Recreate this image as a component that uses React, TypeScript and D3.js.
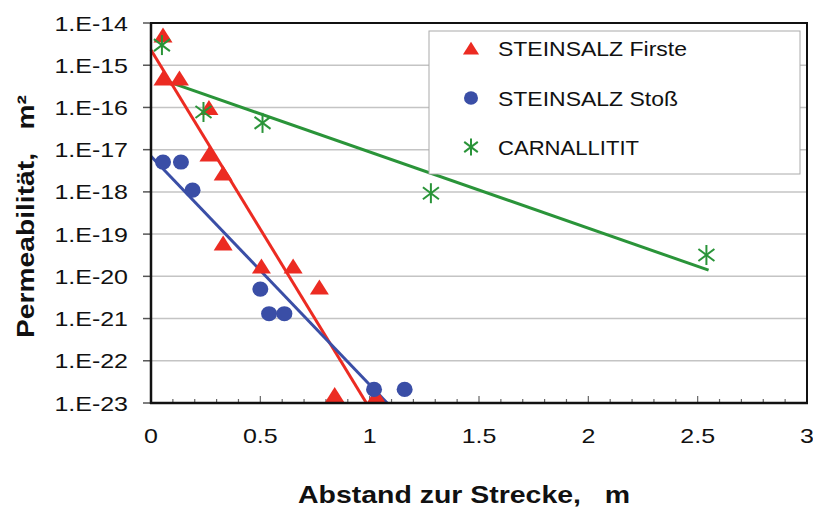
import React from "react";
import * as d3 from "d3";

const firsteX = [0.055, 0.055, 0.13, 0.265, 0.265, 0.33, 0.33, 0.505, 0.65, 0.77, 0.84, 1.03];
const firsteY = [5.2e-15, 5.0e-16, 5.0e-16, 1.0e-16, 7.9e-18, 2.8e-18, 6.2e-20, 1.75e-20, 1.75e-20, 5.6e-21, 1.6e-23, 1.5e-23];

const stossX = [0.055, 0.137, 0.19, 0.5, 0.54, 0.61, 1.02, 1.16];
const stossY = [5.1e-18, 5.1e-18, 1.1e-18, 5.0e-21, 1.3e-21, 1.3e-21, 2.1e-23, 2.1e-23];

const carnX = [0.05, 0.24, 0.51, 1.28, 2.54];
const carnY = [3.0e-15, 7.8e-17, 4.3e-17, 9.3e-19, 3.2e-20];

const firsteTrendX = [0, 0.985];
const firsteTrendY = [2.3e-15, 1e-23];
const stossTrendX = [0, 1.08];
const stossTrendY = [7.0e-18, 1e-23];
const carnTrendX = [0.055, 2.55];
const carnTrendY = [4.5e-16, 1.4e-20];

const yTickExp = [-14, -15, -16, -17, -18, -19, -20, -21, -22, -23];
const xTicks = [0, 0.5, 1, 1.5, 2, 2.5, 3];
const xMinor = d3.range(0, 31).map((i) => i / 10);

const legendLabels = ["STEINSALZ Firste", "STEINSALZ Stoß", "CARNALLITIT"];
const legendWidths = [189, 180, 141];
const xTitle = "Abstand zur Strecke,   m";
const yTitle = "Permeabilität,   m²";

const RED = "#ec2b22";
const BLUE = "#3a4ea6";
const GREEN = "#2a9439";
const FONT = "Liberation Sans, Arial, sans-serif";

const L = 151, R = 807, T = 23, B = 403;

export default function App() {
  const x = d3.scaleLinear().domain([0, 3]).range([L, R]);
  const y = d3.scaleLog().domain([1e-23, 1e-14]).range([B, T]);
  const line = (xs: number[], ys: number[]) =>
    d3.line<number>().x((_, i) => x(xs[i])).y((_, i) => y(ys[i]))(xs.map((v) => v)) || "";

  const tri = (cx: number, cy: number, k = 1) => {
    const w = 9.5 * k, h = 7.5 * k;
    return `M${cx - w},${cy + h}L${cx},${cy - h}L${cx + w},${cy + h}Z`;
  };
  const star = (cx: number, cy: number, key: string, k = 1) => {
    const hw = 8 * k, hh = 10 * k;
    return (
      <g key={key} stroke={GREEN} strokeWidth={2}>
        <line x1={cx} y1={cy - hh} x2={cx} y2={cy + hh} />
        <line x1={cx - hw} y1={cy - hh * 0.6} x2={cx + hw} y2={cy + hh * 0.6} />
        <line x1={cx - hw} y1={cy + hh * 0.6} x2={cx + hw} y2={cy - hh * 0.6} />
      </g>
    );
  };

  const legendRows = [48, 98, 147];

  return (
    <svg width={813} height={507} style={{ position: "absolute", left: 0, top: 0, background: "#fff" }} fontFamily={FONT}>
      <rect x={0} y={0} width={813} height={507} fill="#fff" />
      {yTickExp.map((e) => (
        <line key={"g" + e} x1={L} x2={R} y1={y(Math.pow(10, e))} y2={y(Math.pow(10, e))} stroke="#c4c4c4" strokeWidth={1.5} />
      ))}
      {yTickExp.map((e) => (
        <g key={"yt" + e}>
          <line x1={L - 8} x2={L} y1={y(Math.pow(10, e))} y2={y(Math.pow(10, e))} stroke="#555" strokeWidth={1.5} />
          <text
            transform={`translate(128,${y(Math.pow(10, e)) + 7.5}) scale(1.19,1)`}
            textAnchor="end"
            fontSize={21}
            fill="#111"
          >{`1.E${e}`}</text>
        </g>
      ))}
      {xMinor.map((v, i) => (
        <line key={"xm" + i} x1={x(v)} x2={x(v)} y1={B} y2={B - (i % 5 === 0 ? 7 : 4)} stroke="#666" strokeWidth={1.2} />
      ))}
      {xTicks.map((v) => (
        <text key={"xl" + v} transform={`translate(${x(v)},443) scale(1.19,1)`} textAnchor="middle" fontSize={21} fill="#111">
          {String(v)}
        </text>
      ))}
      <path d={line(carnTrendX, carnTrendY)} fill="none" stroke={GREEN} strokeWidth={3} />
      <path d={line(firsteTrendX, firsteTrendY)} fill="none" stroke={RED} strokeWidth={3} />
      <path d={line(stossTrendX, stossTrendY)} fill="none" stroke={BLUE} strokeWidth={3} />
      {firsteX.map((v, i) => (
        <path key={"f" + i} d={tri(x(v), y(firsteY[i]))} fill={RED} />
      ))}
      {stossX.map((v, i) => (
        <ellipse key={"s" + i} cx={x(v)} cy={y(stossY[i])} rx={8} ry={7.6} fill={BLUE} />
      ))}
      {carnX.map((v, i) => star(x(v), y(carnY[i]), "c" + i))}
      <rect x={L} y={T} width={R - L} height={B - T} fill="none" stroke="#111" strokeWidth={2} />
      <line x1={L} x2={L} y1={T} y2={B + 1} stroke="#111" strokeWidth={2.5} />
      <line x1={L - 1} x2={R + 1} y1={B} y2={B} stroke="#111" strokeWidth={2.5} />
      <rect x={429} y={31} width={371} height={143} fill="#fff" stroke="#aaa" strokeWidth={1} />
      <path d={tri(471, legendRows[0], 0.85)} fill={RED} />
      <ellipse cx={471} cy={legendRows[1]} rx={7} ry={6.8} fill={BLUE} />
      {star(471, legendRows[2], "lg", 0.85)}
      {legendLabels.map((t, i) => (
        <text key={"lt" + i} x={498} y={legendRows[i] + 7.5} fontSize={21} fill="#111" textLength={legendWidths[i]} lengthAdjust="spacingAndGlyphs">
          {t}
        </text>
      ))}
      <text x={298} y={503} fontSize={24} fontWeight="bold" fill="#111" textLength={332} lengthAdjust="spacingAndGlyphs" style={{ whiteSpace: "pre" }}>
        {xTitle}
      </text>
      <text transform="translate(34,338) rotate(-90)" fontSize={24} fontWeight="bold" fill="#111" textLength={243} lengthAdjust="spacingAndGlyphs" style={{ whiteSpace: "pre" }}>
        {yTitle}
      </text>
    </svg>
  );
}
